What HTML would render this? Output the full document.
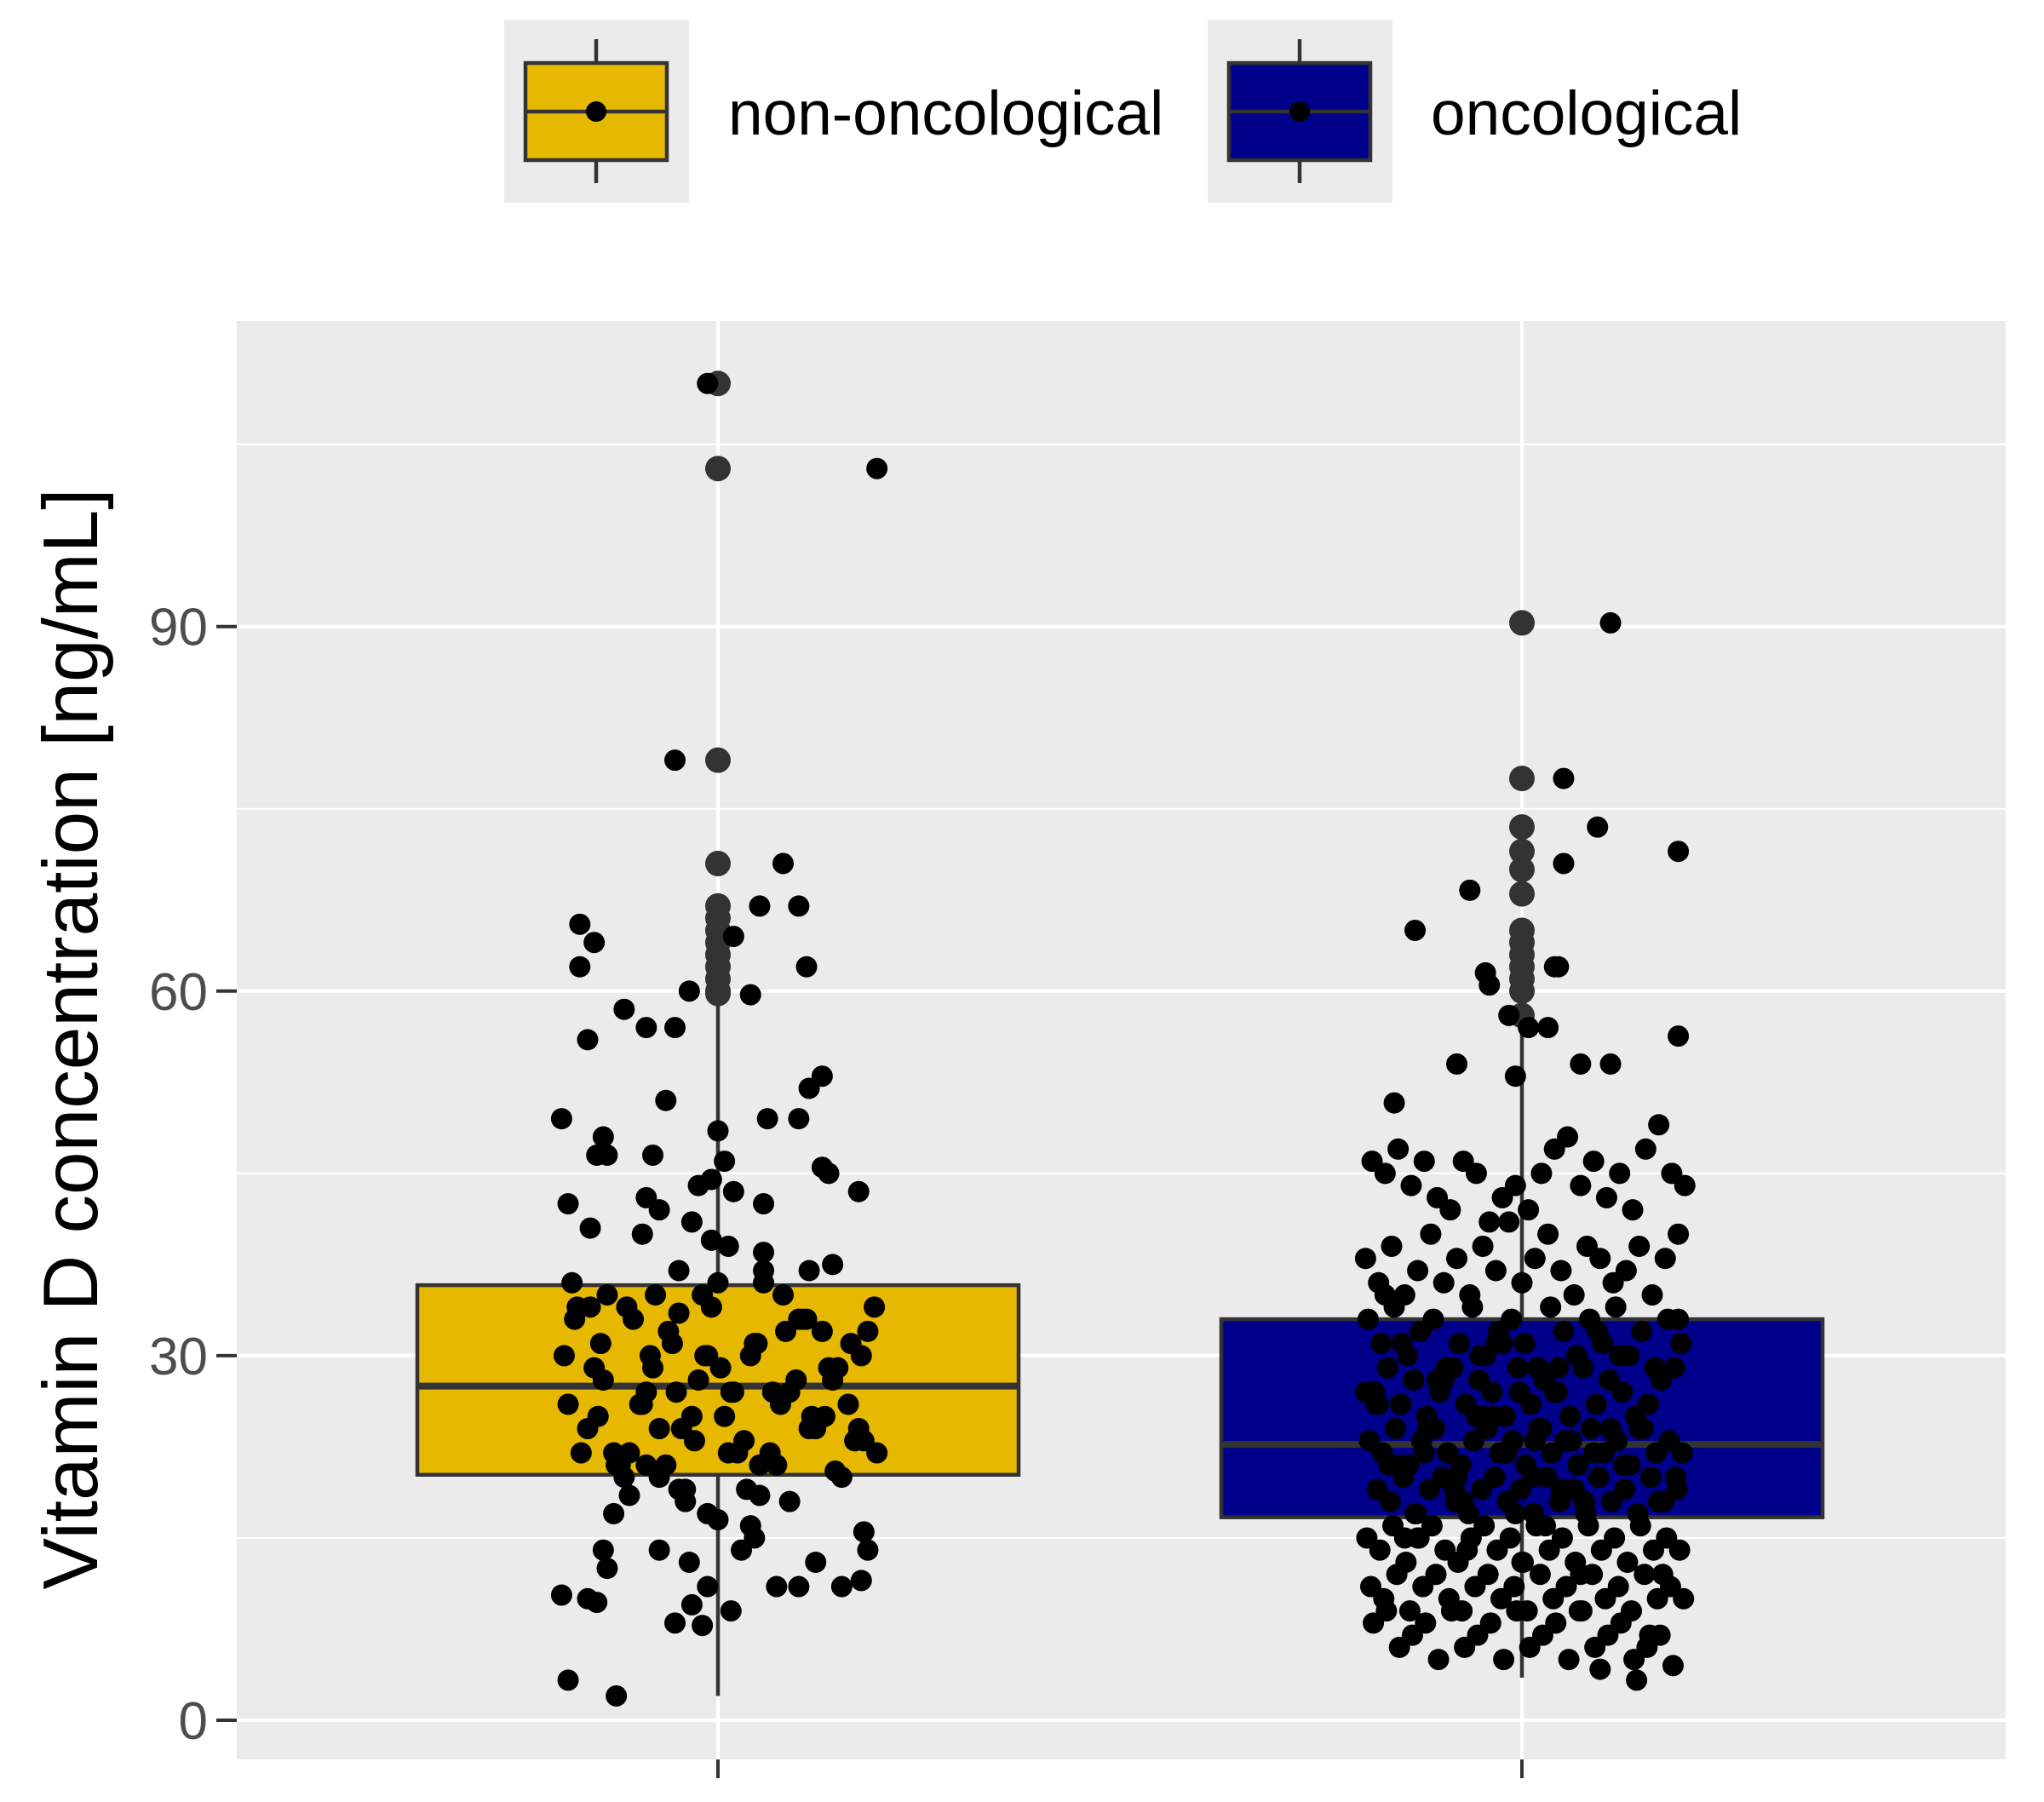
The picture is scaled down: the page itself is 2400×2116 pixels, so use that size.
<!DOCTYPE html>
<html><head><meta charset="utf-8"><style>
html,body{margin:0;padding:0;background:#fff}
svg{display:block;font-family:"Liberation Sans",Arial,sans-serif}
</style></head><body>
<svg id="chart" width="2400" height="2116" viewBox="0 0 2400 2116" xmlns="http://www.w3.org/2000/svg">
<g id="legend">
  <g>
    <rect x="592" y="23" width="217" height="215" fill="#ebebeb"/>
    <line x1="700" y1="46" x2="700" y2="215" stroke="#333" stroke-width="4.5"/>
    <rect x="617" y="74" width="166" height="114" fill="#E6B800" stroke="#333" stroke-width="4.5"/>
    <line x1="617" y1="131" x2="783" y2="131" stroke="#333" stroke-width="4.5"/>
    <circle cx="700" cy="131" r="12" fill="#000"/>
    <text x="855" y="158" font-size="73" fill="#000">non-oncological</text>
  </g>
  <g>
    <rect x="1418" y="23" width="217" height="215" fill="#ebebeb"/>
    <line x1="1526" y1="46" x2="1526" y2="215" stroke="#333" stroke-width="4.5"/>
    <rect x="1443" y="74" width="166" height="114" fill="#00008B" stroke="#333" stroke-width="4.5"/>
    <line x1="1443" y1="131" x2="1609" y2="131" stroke="#333" stroke-width="4.5"/>
    <circle cx="1526" cy="131" r="12" fill="#000"/>
    <text x="1680" y="158" font-size="73" fill="#000">oncological</text>
  </g>
</g>
<rect x="278" y="377" width="2077" height="1689" fill="#ebebeb"/>
<g id="grid"></g>
<g id="boxes"></g>
<g id="points"></g>
<g id="axes"></g>
<text transform="translate(114,1220) rotate(-90)" text-anchor="middle" font-size="91" fill="#000">Vitamin D concentration [ng/mL]</text>
</svg>
<script>
const categories = ["non-oncological","oncological"];
const boxColors = ["#E6B800","#00008B"];
const q1 = [20.2, 16.7];
const medians = [27.5, 22.7];
const q3 = [35.8, 33.0];
const whiskLo = [2.0, 3.5];
const whiskHi = [59.5, 57.0];
const yTicks = [0,30,60,90];
const yMinor = [15,45,75,105];
const outliers0 = [110,103,79,70.5,67,66,65,64,63,62,61,60,59.8];
const outliers1 = [90.3,77.5,73.5,71.5,70,68,65,64,63,62,61,60,58];
const nonOncDx = [-8,122,-33,50,32,62,12,-106,-95,-106,68,25,-22,
-120,-72,-100,-55,-33,-40,-88,-93,-85,-50,-115,-98,-55,-58,-45,-20,-5,8,0,-15,-5,5,12,35,38,62,70,80,80,85,108,-30,35,35,88,70,
-110,-100,-90,-80,-70,-60,-50,-40,-30,-20,-10,0,10,20,30,40,50,60,70,80,90,100,110,120,-115,-105,-95,-85,-75,-65,-55,-45,-35,-25,-15,-5,5,15,25,35,45,55,65,75,85,95,105,115,-112,-92,-72,-52,-32,-12,8,28,48,68,88,108,-118,-98,-78,-58,-38,-18,2,22,42,62,82,102,122,-108,-88,-68,-48,-28,-8,12,32,52,72,92,112,
-120,-100,-93,-115,-78,-88,-85,-80,-68,-45,-33,-22,-20,-12,-8,-8,0,10,18,25,28,32,45,55,62,75,95,110,115,112,-55,-45,-30,-25];
const nonOncV = [110,103,79,70.5,67,67,64.5,65.5,64,62,62,59.7,60,
49.5,58.5,56,57,57,51,48,46.5,46.5,46.5,42.5,40.5,43,40,42,41,39.5,39,48.5,44,44.5,46,43.5,42.5,49.5,49.5,52,53,45.5,45,43.5,37,38.5,37,37.5,37,
33,24,31,22,34,26,29,21,33.5,25,30,36,27,23,31,22,35,28,24,32,20.5,26,30,34,26,22,29,35,21,33,27,24,31,19,28,34,25,22,30,36,21,27,33,24,29,20,23,32,36,25,20,30,27,35,22,31,26,33,28,24,30,34,21,26,32,23,29,19,27,33,25,31,22,34,28,22,35,24,30,27,21,32,25,29,23,
10.3,10,9.7,3.3,2,14,12.5,17,18.5,14,8,13,9.5,7.8,11,17,16.5,9,14,16,15,18.5,11,18,11,13,11,11.5,14,15.5,21,20,19,18];
const oncDx = [68,32,58,32,-40,-82,28,25,-28,-25,120,120,20,-50,-5,45,68,-98,-10,5,
-115,-105,-95,-85,-75,-65,-55,-45,-35,-25,-15,-5,5,15,25,35,45,55,65,75,85,95,105,115,125,
-120,-110,-100,-90,-80,-70,-60,-50,-40,-30,-20,-10,0,10,20,30,40,50,60,70,80,90,100,110,120,
-118,-108,-98,-88,-78,-68,-58,-48,-38,-28,-18,-8,2,12,22,32,42,52,62,72,82,92,102,112,122,
-113,-103,-93,-83,-73,-63,-53,-43,-33,-23,-13,-3,7,17,27,37,47,57,67,77,87,97,107,117,
-117,-107,-97,-87,-77,-67,-57,-47,-37,-27,-17,-7,3,13,23,33,43,53,63,73,83,93,103,113,123,
-111,-101,-91,-81,-71,-61,-51,-41,-31,-21,-11,-1,9,19,29,39,49,59,69,79,89,99,109,119,
-119,-109,-99,-89,-79,-69,-59,-49,-39,-29,-19,-9,1,11,21,31,41,51,61,71,81,91,101,111,121,
-116,-106,-96,-86,-76,-66,-56,-46,-36,-26,-16,-6,4,14,24,34,44,54,64,74,84,94,104,114,124,
-114,-104,-94,-84,-74,-64,-54,-44,-34,-24,-14,-4,6,16,26,36,46,56,66,76,86,96,106,116,
-112,-102,-92,-82,-72,-62,-52,-42,-32,-22,-12,-2,8,18,28,38,48,58,68,78,88,98,108,118,
-120,-105,-90,-75,-60,-45,-30,-15,0,15,30,45,60,75,90,105,120,
-110,-95,-80,-65,-50,-35,-20,-5,10,25,40,55,70,85,100,115];
const oncV = [90.3,77.5,73.5,70.5,68.3,65,62,62,61.5,60.5,71.5,56.3,57,54,53,54,54,50.8,58,57,
46,45,47,44,46,43,42,46,45,41,43,44,42,45,47,48,44,46,43,45,42,47,49,45,44,
38,36,39,35,37,40,36,38,35,39,37,41,36,38,40,37,35,39,38,36,37,39,35,38,40,
33,31,34,30,32,33,29,31,34,30,32,33,31,29,34,32,30,33,31,34,30,32,29,33,31,
27,29,26,28,25,27,29,26,28,27,25,29,26,28,27,25,29,26,28,27,25,26,28,29,
23,22,24,21,23,24,22,21,23,24,22,23,21,24,22,23,21,24,22,23,21,24,22,23,22,
19,18,20,17,19,20,18,17,19,20,18,19,17,20,18,19,17,20,18,19,17,20,18,19,
15,14,16,13,15,16,14,13,15,16,14,15,13,16,14,15,13,16,14,15,13,16,14,15,14,
11,10,12,9,11,12,10,9,11,12,10,11,9,12,10,11,9,12,10,11,9,12,10,11,10,
8,9,6,7,8,5,9,6,7,8,5,9,6,7,8,5,9,6,7,8,5,6,7,4.5,
26,21,31,17,24,28,19,14,30,25,22,27,20,16,29,23,18,32,24,21,
3.3,7,12,20,27,35,15,22,28,18,25,31,13,24,19,12,4.2,
30,24,18,33,26,21,15,28,20,25,31,17,23,27,19,22];

const NS="http://www.w3.org/2000/svg";
const yPx = v => 2020 - v*14.27;
const xPx = i => 843 + i*944;
const dxPx = d => d*1.53;
function mk(tag, attrs, parent){const e=document.createElementNS(NS,tag);for(const k in attrs)e.setAttribute(k,attrs[k]);parent.appendChild(e);return e;}
const grid=document.getElementById('grid'), boxes=document.getElementById('boxes'), pts=document.getElementById('points'), axes=document.getElementById('axes');
yMinor.forEach(v=>{const l=mk('line',{x1:278,x2:2355,y1:yPx(v),y2:yPx(v),stroke:'#fff','stroke-width':2},grid);

});
yTicks.forEach(v=>{const l=mk('line',{x1:278,x2:2355,y1:yPx(v),y2:yPx(v),stroke:'#fff','stroke-width':4},grid);


const t=mk('line',{x1:254,x2:278,y1:yPx(v),y2:yPx(v),stroke:'#333','stroke-width':4},axes);


const tx=mk('text',{x:244,y:yPx(v)+22,'text-anchor':'end','font-size':62,fill:'#4d4d4d'},axes);tx.textContent=v;

});
categories.forEach((c,i)=>{const x=xPx(i);
const g=mk('line',{x1:x,x2:x,y1:377,y2:2066,stroke:'#fff','stroke-width':4},grid);


const t=mk('line',{x1:x,x2:x,y1:2066,y2:2088,stroke:'#333','stroke-width':4},axes);


const w=mk('line',{x1:x,x2:x,y1:yPx(whiskLo[i]),y2:yPx(whiskHi[i]),stroke:'#333','stroke-width':4.5},boxes);


const b=mk('rect',{x:x-353,y:yPx(q3[i]),width:706,height:yPx(q1[i])-yPx(q3[i]),fill:boxColors[i],stroke:'#333','stroke-width':4.5},boxes);


const m=mk('line',{x1:x-353,x2:x+353,y1:yPx(medians[i]),y2:yPx(medians[i]),stroke:'#333','stroke-width':8},boxes);


(i===0?outliers0:outliers1).forEach(v=>{const o=mk('circle',{cx:x,cy:yPx(v),r:15,fill:'#333'},boxes);

});
});
function drawPts(dx,vals,i){vals.forEach((v,k)=>{const p=mk('circle',{cx:xPx(i)+dxPx(dx[k]||0),cy:yPx(v),r:12.5,fill:'#000'},pts);

});}
drawPts(nonOncDx,nonOncV,0);
drawPts(oncDx,oncV,1);
</script>
</body></html>
